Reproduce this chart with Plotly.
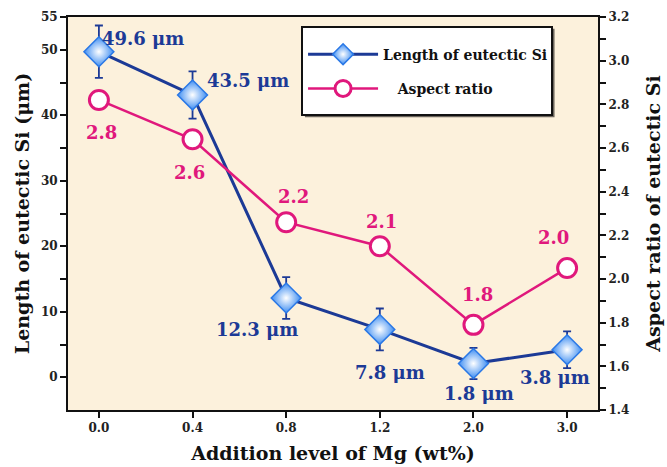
import plotly.graph_objects as go

categories = ["0.0", "0.4", "0.8", "1.2", "2.0", "3.0"]
length_si = [49.7, 43.1, 12.1, 7.3, 2.1, 4.2]
length_err = [4.0, 3.6, 3.2, 3.2, 2.4, 2.8]
aspect_ratio = [2.82, 2.64, 2.26, 2.15, 1.79, 2.05]
length_labels = ["49.6 μm", "43.5 μm", "12.3 μm", "7.8 μm", "1.8 μm", "3.8 μm"]
aspect_labels = ["2.8", "2.6", "2.2", "2.1", "1.8", "2.0"]
y1_ticks = [0, 10, 20, 30, 40, 50, 55]
y2_ticks = [1.4, 1.6, 1.8, 2.0, 2.2, 2.4, 2.6, 2.8, 3.0, 3.2]

FONT = "DejaVu Serif"
BLUE = "#1c3a96"
PINK = "#e0187c"

xs = list(range(len(categories)))

fig = go.Figure()
fig.add_trace(go.Scatter(
    x=xs, y=length_si, name="Length of eutectic Si", mode="lines+markers",
    legendgroup="a",
    line=dict(color=BLUE, width=3),
    marker=dict(symbol="diamond", size=23, color="#3d8df2",
                gradient=dict(type="radial", color="#ffffff"),
                line=dict(color="#2a78e6", width=1.5)),
    error_y=dict(type="data", array=length_err, color=BLUE, thickness=1.8, width=4),
    yaxis="y"))
fig.add_trace(go.Scatter(
    x=xs, y=aspect_ratio, name="   Aspect ratio", mode="lines+markers",
    legendgroup="b",
    line=dict(color=PINK, width=2.5),
    marker=dict(symbol="circle", size=19, color="white",
                line=dict(color=PINK, width=3)),
    yaxis="y2"))

blue_shift = [(44, 13), (55, 14), (-29, -31), (10, -43), (6, -30), (-12, -28)]
pink_shift = [(3, -33), (-3, -33), (7, 26), (2, 25), (4, 30), (-14, 31)]
for i, x in enumerate(xs):
    fig.add_annotation(x=x, y=length_si[i], xref="x", yref="y", text=length_labels[i],
                       showarrow=False, xshift=blue_shift[i][0], yshift=blue_shift[i][1],
                       font=dict(family=FONT, size=18, color=BLUE, weight="bold"))
    fig.add_annotation(x=x, y=aspect_ratio[i], xref="x", yref="y2", text=aspect_labels[i],
                       showarrow=False, xshift=pink_shift[i][0], yshift=pink_shift[i][1],
                       font=dict(family=FONT, size=18, color=PINK, weight="bold"))

# legend box (shadow + frame)
fig.add_shape(type="rect", xref="paper", yref="paper", x0=0.447, x1=0.918, y0=0.745, y1=0.970,
              line=dict(width=0), fillcolor="#6b655c", layer="above")
fig.add_shape(type="rect", xref="paper", yref="paper", x0=0.4415, x1=0.9132, y0=0.7506, y1=0.9746,
              line=dict(color="#111", width=2), fillcolor="white", layer="above")

tickfont = dict(family=FONT, size=12, color="#222", weight="bold")
titlefont = dict(family=FONT, size=19, color="#111", weight="bold")

fig.update_layout(
    width=667, height=467,
    margin=dict(l=68, r=69, t=17, b=57, autoexpand=False),
    paper_bgcolor="white", plot_bgcolor="#fcf1dc",
    showlegend=True,
    legend=dict(x=0.4435, y=0.945, xanchor="left", yanchor="top",
                bgcolor="rgba(0,0,0,0)", borderwidth=0,
                font=dict(family=FONT, size=14, color="#111", weight="bold"),
                itemwidth=70, tracegroupgap=13),
    xaxis=dict(tickmode="array", tickvals=xs, ticktext=categories,
               range=[-0.33, 5.33], showgrid=False, zeroline=False, automargin=False,
               showline=True, linecolor="#111", linewidth=2, mirror=True,
               ticks="outside", ticklen=6, tickwidth=2, tickcolor="#111",
               tickfont=tickfont,
               title=dict(text="Addition level of Mg (wt%)", font=titlefont, standoff=12)),
    yaxis=dict(range=[-5, 55], tickvals=y1_ticks, showgrid=False, zeroline=False,
               automargin=False,
               showline=True, linecolor="#111", linewidth=2,
               ticks="outside", ticklen=6, tickwidth=2, tickcolor="#111",
               minor=dict(tickvals=[5, 15, 25, 35, 45], ticks="outside", ticklen=6,
                          tickwidth=1.5, tickcolor="#111"),
               tickfont=tickfont,
               title=dict(text="Length of eutectic Si (μm)", font=titlefont, standoff=6)),
    yaxis2=dict(range=[1.4, 3.2], tickvals=y2_ticks, ticktext=[f"{v:.1f}" for v in y2_ticks],
                overlaying="y", side="right", showgrid=False, zeroline=False,
                automargin=False,
                showline=True, linecolor="#111", linewidth=2,
                ticks="outside", ticklen=6, tickwidth=2, tickcolor="#111",
                minor=dict(tickvals=[1.5, 1.7, 1.9, 2.1, 2.3, 2.5, 2.7, 2.9, 3.1],
                           ticks="outside", ticklen=6, tickwidth=1.5, tickcolor="#111"),
                tickfont=tickfont,
                title=dict(text="Aspect ratio of eutectic Si", font=titlefont, standoff=18)),
)

fig.write_html("out.html")
